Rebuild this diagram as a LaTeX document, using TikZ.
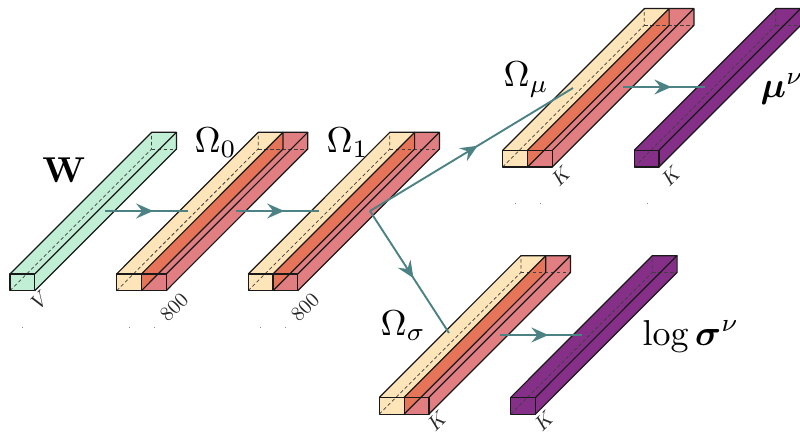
\documentclass[tikz,border=0pt]{standalone}
\usepackage{amsmath,bm}
\usetikzlibrary{arrows.meta,decorations.markings}
\definecolor{cgreen}{HTML}{C1EFD5}
\definecolor{cyellow}{HTML}{FDE4B9}
\definecolor{corange}{HTML}{E57459}
\definecolor{cpink}{HTML}{E07E81}
\definecolor{cpurple}{HTML}{852F88}
\definecolor{cteal}{HTML}{4C8283}
\tikzset{
  edge/.style={black!90,line width=1.2pt,line join=round},
  hidden/.style={black!75,line width=0.75pt,dash pattern=on 3.5pt off 2.5pt},
  conn/.style={cteal,line width=1.9pt,postaction={decorate},
    decoration={markings,mark=at position #1 with {\arrow{Stealth[length=17pt,width=15pt,inset=6pt]}}}},
  bigm/.style={scale=3.6,inner sep=0pt},
  dimlab/.style={scale=2.05,rotate=45,inner sep=0pt,black!85},
  speck/.style={black!45,line width=0.7pt}
}
% #1 x of the front left, #2 y of the front top, #3 fill, back is offset by (141.6,-141.7)
\newcommand{\prismA}[3]{%
  \fill[#3] (#1,#2) -- ++(141.6,-141.7) -- ++(24.8,0) -- ++(0,16.7) -- ++(-141.6,141.7) -- ++(-24.8,0) -- cycle;
  \draw[hidden] (#1,#2+16.7) -- ++(141.6,-141.7) -- ++(0,-16.7);
  \draw[hidden] (#1+141.6,#2-125) -- ++(24.8,0);
  \draw[edge] (#1,#2) rectangle ++(24.8,16.7);
  \draw[edge] (#1,#2) -- ++(141.6,-141.7) -- ++(24.8,0) -- ++(-141.6,141.7);
  \draw[edge] (#1+166.4,#2-141.7) -- ++(0,16.7) -- ++(-141.6,141.7);
}
\newcommand{\prismB}[2]{%
  \fill[cyellow] (#1,#2) -- ++(141.6,-141.7) -- ++(24.8,0) -- ++(-141.6,141.7) -- ++(0,16.7) -- ++(-24.8,0) -- cycle;
  \fill[cpink] (#1+24.8,#2) -- ++(141.6,-141.7) -- ++(24.8,0) -- ++(0,16.7) -- ++(-141.6,141.7) -- ++(-24.8,0) -- cycle;
  \fill[corange] (#1+24.8,#2) -- ++(141.6,-141.7) -- ++(0,16.7) -- ++(-141.6,141.7) -- cycle;
  \draw[hidden] (#1,#2+16.7) -- ++(141.6,-141.7) -- ++(0,-16.7);
  \draw[hidden] (#1+141.6,#2-125) -- ++(49.6,0);
  \draw[edge] (#1,#2) rectangle ++(24.8,16.7);
  \draw[edge] (#1+24.8,#2) rectangle ++(24.8,16.7);
  \draw[edge] (#1,#2) -- ++(141.6,-141.7) -- ++(49.6,0) -- ++(-141.6,141.7);
  \draw[edge] (#1+24.8,#2) -- ++(141.6,-141.7) -- ++(0,16.7) -- ++(-141.6,141.7);
  \draw[edge] (#1+191.2,#2-141.7) -- ++(0,16.7) -- ++(-141.6,141.7);
}
\begin{document}
\begin{tikzpicture}[x=1pt,y=-1pt]
\useasboundingbox (0,0) rectangle (800,433);
\prismA{10}{274}{cgreen}
\prismB{116.6}{274}
\prismB{248.2}{274}
\prismB{502.7}{150.3}
\prismA{634.2}{150.3}{cpurple}
\prismB{379.3}{397.4}
\prismA{510.7}{397.4}{cpurple}
% labels
\node[bigm] (w) at (64,170) {$\mathbf{W}$};
\node[bigm,anchor=base west] (om0) at (194,152) {$\Omega_0$};
\node[bigm,anchor=base west] (om1) at (326,152) {$\Omega_1$};
\node[bigm,anchor=base west] (omm) at (503,87) {$\Omega_\mu$};
\node[bigm,anchor=base west] (oms) at (380,335) {$\Omega_\sigma$};
\node[bigm,anchor=base west] (mu) at (760,98) {$\bm{\mu}^\nu$};
\node[bigm,anchor=base west] (ls) at (642,345) {$\log\bm{\sigma}^\nu$};
\node[dimlab] (dv) at (40,300) {$V$};
\node[dimlab] (d0) at (174,307) {800};
\node[dimlab] (d1) at (305,307) {800};
\node[dimlab] (dm1) at (561,176) {$K$};
\node[dimlab] (dm2) at (671,176) {$K$};
\node[dimlab] (ds1) at (437,421) {$K$};
\node[dimlab] (ds2) at (544,421) {$K$};
% connector ends
\coordinate (a1) at (105,211); \coordinate (b1) at (188,211);
\coordinate (a2) at (236,211); \coordinate (b2) at (319,211);
\coordinate (s) at (370,211);
\coordinate (b3) at (573,88);
\coordinate (b4) at (449,333);
\coordinate (a5) at (623,87); \coordinate (b5) at (705,87);
\coordinate (a6) at (500,335); \coordinate (b6) at (582,335);
\draw[conn=0.58] (a1) -- (b1);
\draw[conn=0.58] (a2) -- (b2);
\draw[conn=0.53] (s) -- (b3);
\draw[conn=0.55] (s) -- (b4);
\draw[conn=0.59] (a5) -- (b5);
\draw[conn=0.59] (a6) -- (b6);
% specks
\foreach \x in {22.5,129.5,154,260.5,285} \draw[speck] (\x,326.5) -- ++(0,1.2);
\foreach \x in {515.5,540,647} \draw[speck] (\x,202.5) -- ++(0,1.2);
\end{tikzpicture}
\end{document}
